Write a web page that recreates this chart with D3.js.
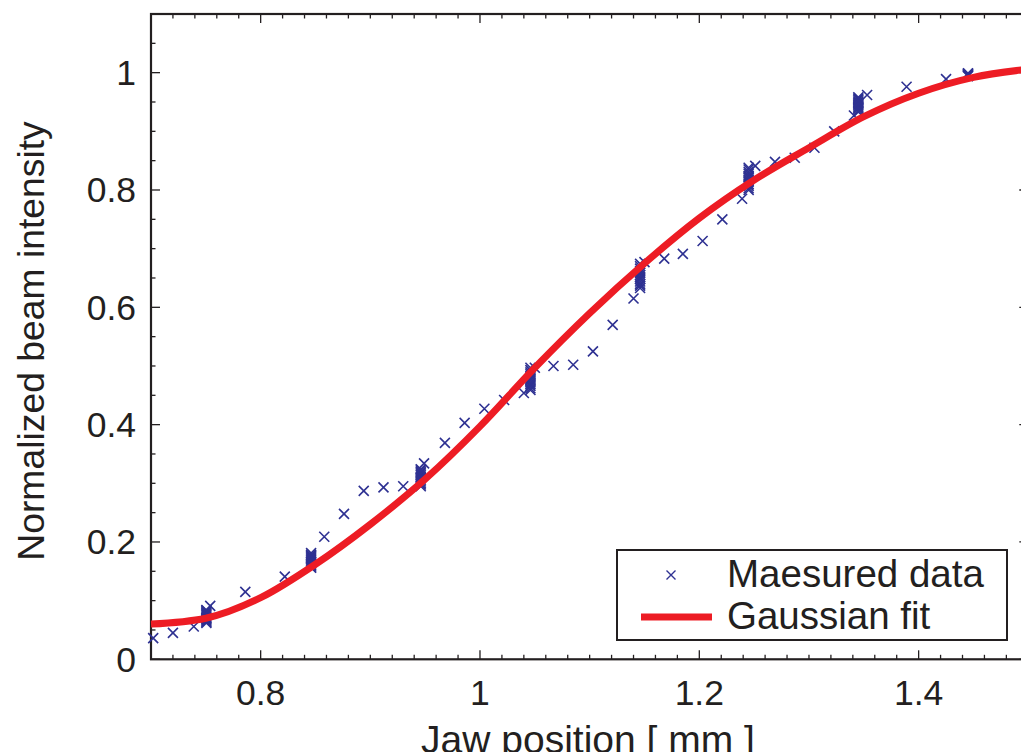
<!DOCTYPE html>
<html>
<head>
<meta charset="utf-8">
<script src="https://cdn.jsdelivr.net/npm/d3@7"></script>
<style>
  body { margin: 0; background: #fff; }
  svg text { font-family: "Liberation Sans", Arial, sans-serif; fill: #231f20; }
</style>
</head>
<body>
<div id="chart"></div>
<script>
// scattered scan points (jaw position in mm, normalized intensity)
var scanX = [0.702, 0.720, 0.739, 0.754, 0.786, 0.822, 0.858, 0.876, 0.894, 0.912, 0.930, 0.949,
             0.968, 0.986, 1.004, 1.022, 1.040, 1.050, 1.067, 1.085, 1.103, 1.121, 1.140, 1.150,
             1.168, 1.185, 1.203, 1.221, 1.239, 1.251, 1.269, 1.287, 1.305, 1.323, 1.341, 1.353,
             1.389, 1.425];
var scanY = [0.036, 0.045, 0.056, 0.091, 0.115, 0.141, 0.209, 0.248, 0.287, 0.293, 0.295, 0.334,
             0.369, 0.403, 0.427, 0.442, 0.454, 0.497, 0.500, 0.502, 0.525, 0.570, 0.615, 0.677,
             0.683, 0.691, 0.713, 0.750, 0.785, 0.841, 0.848, 0.855, 0.872, 0.900, 0.927, 0.962,
             0.976, 0.989];

// repeated measurements at fixed jaw positions (dense stacks)
var stackX = [0.7505, 0.846, 0.946, 1.046, 1.146, 1.245, 1.345, 1.445];
var stackY = [
  [0.062, 0.064, 0.066, 0.068, 0.070, 0.071, 0.073, 0.075, 0.077, 0.079, 0.081, 0.083, 0.084],
  [0.156, 0.158, 0.160, 0.163, 0.165, 0.167, 0.170, 0.172, 0.174, 0.176, 0.178, 0.181],
  [0.295, 0.298, 0.300, 0.303, 0.306, 0.309, 0.311, 0.314, 0.317, 0.319, 0.322, 0.324],
  [0.459, 0.462, 0.466, 0.469, 0.472, 0.476, 0.479, 0.483, 0.486, 0.489, 0.493, 0.497],
  [0.633, 0.637, 0.640, 0.644, 0.648, 0.651, 0.655, 0.659, 0.662, 0.666, 0.670, 0.674],
  [0.800, 0.803, 0.807, 0.810, 0.814, 0.817, 0.821, 0.824, 0.828, 0.831, 0.835, 0.838],
  [0.933, 0.935, 0.938, 0.940, 0.942, 0.945, 0.947, 0.949, 0.951, 0.954, 0.956, 0.958],
  [0.994, 0.995, 0.996, 0.997, 0.998, 0.999]
];

// fitted curve
var fitX = [0.70, 0.75, 0.80, 0.85, 0.90, 0.95, 1.00, 1.05, 1.10, 1.15, 1.20, 1.25, 1.30, 1.35, 1.40, 1.45, 1.50];
var fitY = [0.060, 0.070, 0.105, 0.162, 0.230, 0.307, 0.397, 0.497, 0.590, 0.675, 0.752, 0.817, 0.872, 0.925, 0.965, 0.992, 1.006];

var xMajor = [0.8, 1.0, 1.2, 1.4];
var yMajor = [0, 0.2, 0.4, 0.6, 0.8, 1.0];
var legendLabels = ['Maesured data', 'Gaussian fit'];

var width = 1021, height = 752;
var plotL = 151, plotT = 14, plotR = 1028.3, plotB = 659.3;
var blue = '#2e3192', red = '#ed1c24';

var svg = d3.select('#chart').append('svg')
    .attr('width', width)
    .attr('height', height);

var x = d3.scaleLinear().domain([0.7, 1.5]).range([plotL, plotR]);
var y = d3.scaleLinear().domain([0, 1.1]).range([plotB, plotT]);

// minor + major ticks on all four sides, pointing inward
var xMinor = d3.range(41).map(d => +(0.7 + d * 0.02).toFixed(2)).filter(d => d <= 1.5);
var yMinor = d3.range(23).map(d => +(d * 0.05).toFixed(2)).filter(d => d <= 1.1);
var isMajX = d => xMajor.some(m => Math.abs(m - d) < 1e-6);
var isMajY = d => yMajor.some(m => Math.abs(m - d) < 1e-6);

var ticks = svg.append('g').attr('stroke', '#231f20').attr('stroke-width', 1.3);
xMinor.forEach(function(d) {
  var len = isMajX(d) ? 9 : 4.5;
  ticks.append('line').attr('x1', x(d)).attr('x2', x(d)).attr('y1', plotB).attr('y2', plotB - len);
  ticks.append('line').attr('x1', x(d)).attr('x2', x(d)).attr('y1', plotT).attr('y2', plotT + len);
});
yMinor.forEach(function(d) {
  var len = isMajY(d) ? 9 : 4.5;
  ticks.append('line').attr('x1', plotL).attr('x2', plotL + len).attr('y1', y(d)).attr('y2', y(d));
  ticks.append('line').attr('x1', plotR).attr('x2', plotR - len).attr('y1', y(d)).attr('y2', y(d));
});

svg.append('rect')
    .attr('x', plotL).attr('y', plotT)
    .attr('width', plotR - plotL).attr('height', plotB - plotT)
    .attr('fill', 'none')
    .attr('stroke', '#231f20')
    .attr('stroke-width', 2.2);

// tick labels
svg.selectAll('.xlab').data(xMajor).enter().append('text')
    .attr('x', d => x(d)).attr('y', 705)
    .attr('text-anchor', 'middle')
    .style('font-size', '35.5px')
    .text(d => d3.format('~g')(d));

svg.selectAll('.ylab').data(yMajor).enter().append('text')
    .attr('x', 136).attr('y', d => y(d) + 12.5)
    .attr('text-anchor', 'end')
    .style('font-size', '35.5px')
    .text(d => d3.format('~g')(d));

// axis titles
svg.append('text')
    .attr('x', 588).attr('y', 753)
    .attr('text-anchor', 'middle')
    .style('font-size', '39px')
    .text('Jaw position [ mm ]');

svg.append('text')
    .attr('transform', 'translate(44,341) rotate(-90)')
    .attr('text-anchor', 'middle')
    .style('font-size', '37.3px')
    .text('Normalized beam intensity');

// x-shaped markers
function cross(g, cx, cy, r) {
  g.append('path')
    .attr('d', 'M' + (cx - r) + ',' + (cy - r) + 'L' + (cx + r) + ',' + (cy + r) +
               'M' + (cx - r) + ',' + (cy + r) + 'L' + (cx + r) + ',' + (cy - r));
}

var marks = svg.append('g').attr('stroke', blue).attr('stroke-width', 1.6).attr('fill', 'none');
stackX.forEach(function(sx, i) {
  stackY[i].forEach(function(sy) { cross(marks, x(sx), y(sy), 5); });
});
scanX.forEach(function(sx, i) { cross(marks, x(sx), y(scanY[i]), 5); });

// fitted curve
var fitLine = d3.line()
    .x(d => x(d[0]))
    .y(d => y(d[1]))
    .curve(d3.curveMonotoneX);

svg.append('path')
    .datum(d3.zip(fitX, fitY))
    .attr('d', fitLine)
    .attr('fill', 'none')
    .attr('stroke', red)
    .attr('stroke-width', 7);

// legend
var lg = svg.append('g');
lg.append('rect')
    .attr('x', 617).attr('y', 550)
    .attr('width', 390).attr('height', 90)
    .attr('fill', '#fff')
    .attr('stroke', '#231f20')
    .attr('stroke-width', 2);
var lgMark = lg.append('g').attr('stroke', blue).attr('stroke-width', 1.4);
cross(lgMark, 671, 575, 4.5);
lg.append('line')
    .attr('x1', 641).attr('x2', 712)
    .attr('y1', 617).attr('y2', 617)
    .attr('stroke', red).attr('stroke-width', 7);
lg.selectAll('.lt').data(legendLabels).enter().append('text')
    .attr('x', 727)
    .attr('y', (d, i) => 587 + i * 42)
    .style('font-size', '38.5px')
    .text(d => d);
</script>
</body>
</html>
